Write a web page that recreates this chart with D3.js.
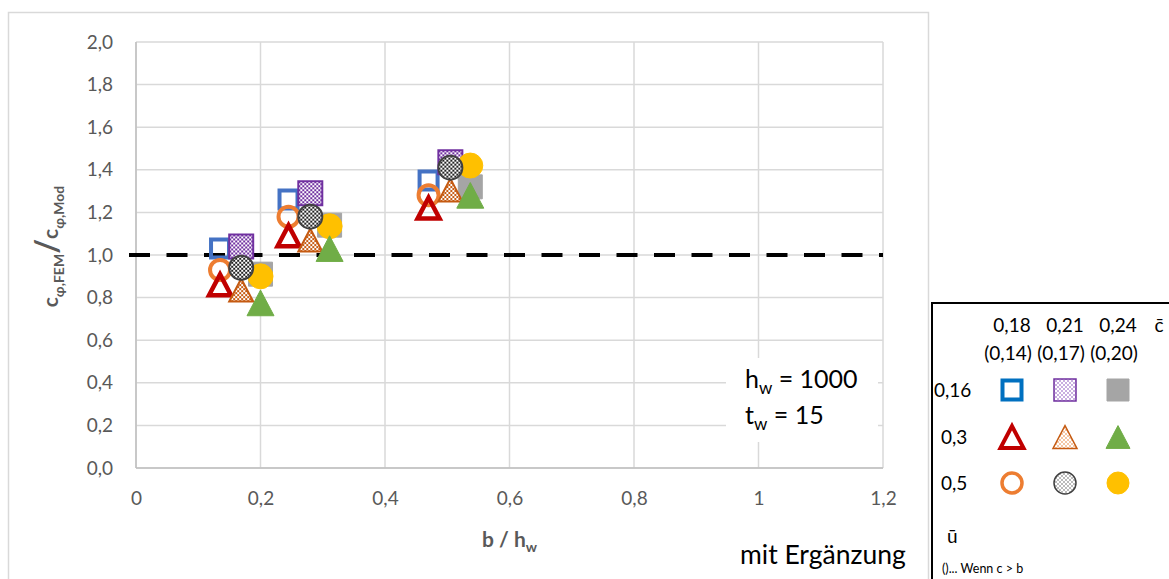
<!DOCTYPE html>
<html>
<head>
<meta charset="utf-8">
<script src="https://cdn.jsdelivr.net/npm/d3@7"></script>
<style>
  html, body { margin: 0; padding: 0; background: #fff; }
  svg { display: block; font-family: Lato, "Open Sans", sans-serif; }
</style>
</head>
<body>
<svg id="chart" width="1169" height="579"></svg>
<script>
// Tick values for both axes
const xTicks = [0, 0.2, 0.4, 0.6, 0.8, 1.0, 1.2];
const yTicks = [0, 0.2, 0.4, 0.6, 0.8, 1.0, 1.2, 1.4, 1.6, 1.8, 2.0];
const xTickLabels = ["0", "0,2", "0,4", "0,6", "0,8", "1", "1,2"];
const yTickLabels = ["0,0", "0,2", "0,4", "0,6", "0,8", "1,0", "1,2", "1,4", "1,6", "1,8", "2,0"];

// Legend header values
const cBarValues = ["0,18", "0,21", "0,24"];
const cBarAlt = ["(0,14)", "(0,17)", "(0,20)"];
const uBarValues = ["0,16", "0,3", "0,5"];

// b / h_w for each c̄ column (three web configurations each)
const bRatio_c018 = [0.135, 0.245, 0.470];
const bRatio_c021 = [0.169, 0.280, 0.505];
const bRatio_c024 = [0.200, 0.311, 0.537];

// c_φ,FEM / c_φ,Mod per series (ū, c̄)
const ratio_u016_c018 = [1.03, 1.26, 1.35];
const ratio_u016_c021 = [1.04, 1.29, 1.435];
const ratio_u016_c024 = [0.91, 1.14, 1.32];
const ratio_u03_c018 = [0.86, 1.09, 1.22];
const ratio_u03_c021 = [0.835, 1.07, 1.305];
const ratio_u03_c024 = [0.775, 1.03, 1.28];
const ratio_u05_c018 = [0.93, 1.18, 1.28];
const ratio_u05_c021 = [0.94, 1.18, 1.41];
const ratio_u05_c024 = [0.90, 1.135, 1.42];

const referenceLine = 1.0;

const svg = d3.select("#chart");
const defs = svg.append("defs");

// Fine checker fills
function checker(id, dark, light) {
  const p = defs.append("pattern").attr("id", id).attr("patternUnits", "userSpaceOnUse")
    .attr("width", 4).attr("height", 4);
  p.append("rect").attr("width", 4).attr("height", 4).attr("fill", light);
  p.append("rect").attr("width", 2).attr("height", 2).attr("fill", dark);
  p.append("rect").attr("x", 2).attr("y", 2).attr("width", 2).attr("height", 2).attr("fill", dark);
}
checker("chkPurple", "#7030a0", "#ffffff");
checker("chkOrange", "#c55a11", "#ffffff");
checker("chkGray", "#222222", "#ffffff");
checker("chkPurpleLt", "#c9aee0", "#ffffff");
checker("chkOrangeLt", "#f4c7a6", "#ffffff");
checker("chkGrayLt", "#bbbbbb", "#ffffff");

// Outer chart frame
svg.append("rect").attr("x", 8.5).attr("y", 12.5).attr("width", 920).attr("height", 580)
  .attr("fill", "#fff").attr("stroke", "#d9d9d9").attr("stroke-width", 1.5);

const plot = { left: 136, top: 42, right: 883, bottom: 468 };
const x = d3.scaleLinear().domain([0, 1.2]).range([plot.left, plot.right]);
const y = d3.scaleLinear().domain([0, 2.0]).range([plot.bottom, plot.top]);

// Gridlines
const grid = svg.append("g");
grid.selectAll("line.h").data(yTicks).join("line")
  .attr("x1", plot.left).attr("x2", plot.right)
  .attr("y1", d => y(d)).attr("y2", d => y(d))
  .attr("stroke", "#d9d9d9").attr("stroke-width", 1.5);
grid.selectAll("line.v").data(xTicks).join("line")
  .attr("y1", plot.top).attr("y2", plot.bottom)
  .attr("x1", d => x(d)).attr("x2", d => x(d))
  .attr("stroke", "#d9d9d9").attr("stroke-width", 1.5);
svg.append("line").attr("x1", plot.left).attr("x2", plot.right)
  .attr("y1", y(0)).attr("y2", y(0)).attr("stroke", "#bfbfbf").attr("stroke-width", 1.5);
svg.append("line").attr("x1", x(0)).attr("x2", x(0))
  .attr("y1", plot.top).attr("y2", plot.bottom).attr("stroke", "#bfbfbf").attr("stroke-width", 1.5);

// Axes (labels only)
const yAxis = d3.axisLeft(y).tickValues(yTicks).tickSize(0).tickPadding(23)
  .tickFormat((d, i) => yTickLabels[i]);
svg.append("g").attr("transform", `translate(${plot.left},0)`).call(yAxis)
  .call(g => g.select(".domain").remove())
  .selectAll("text").attr("font-size", 19).attr("fill", "#595959")
  .attr("font-family", "Lato, sans-serif");

const xAxis = d3.axisBottom(x).tickValues(xTicks).tickSize(0).tickPadding(24)
  .tickFormat((d, i) => xTickLabels[i]);
svg.append("g").attr("transform", `translate(0,${plot.bottom})`).call(xAxis)
  .call(g => g.select(".domain").remove())
  .selectAll("text").attr("font-size", 19).attr("fill", "#595959")
  .attr("font-family", "Lato, sans-serif");

// Axis titles
const yTitle = svg.append("text")
  .attr("transform", `translate(58,${y(1.04)}) rotate(-90)`)
  .attr("text-anchor", "middle").attr("fill", "#595959")
  .attr("font-weight", "bold").attr("font-size", 21);
yTitle.append("tspan").text("c");
yTitle.append("tspan").attr("font-size", 14).attr("dy", 6).text("φ,FEM");
yTitle.append("tspan").attr("font-size", 32).attr("dy", -6).text("/");
yTitle.append("tspan").text("c");
yTitle.append("tspan").attr("font-size", 14).attr("dy", 6).text("φ,Mod");

const xTitle = svg.append("text").attr("x", x(0.6)).attr("y", 547)
  .attr("text-anchor", "middle").attr("fill", "#595959")
  .attr("font-weight", "bold").attr("font-size", 21);
xTitle.append("tspan").text("b / h");
xTitle.append("tspan").attr("font-size", 14).attr("dy", 5).text("w");

// Reference ratio line
svg.append("line")
  .attr("x1", plot.left - 7).attr("x2", plot.right)
  .attr("y1", y(referenceLine)).attr("y2", y(referenceLine))
  .attr("stroke", "#000").attr("stroke-width", 4).attr("stroke-dasharray", "21,16.5");

// Marker shapes
function squarePath(s) { return `M${-s/2},${-s/2}h${s}v${s}h${-s}Z`; }
function trianglePath(w) { const h = w * 0.95; return `M0,${-h/2}L${w/2},${h/2}L${-w/2},${h/2}Z`; }
function circlePath(r) { return `M${-r},0A${r},${r} 0 1,0 ${r},0A${r},${r} 0 1,0 ${-r},0Z`; }

const series = [
  { xs: bRatio_c018, ys: ratio_u016_c018, d: squarePath(18), fill: "none", stroke: "#4472c4", sw: 4 },
  { xs: bRatio_c021, ys: ratio_u016_c021, d: squarePath(24), fill: "url(#chkPurple)", stroke: "#7030a0", sw: 2 },
  { xs: bRatio_c024, ys: ratio_u016_c024, d: squarePath(24), fill: "#a5a5a5", stroke: "#a5a5a5", sw: 1 },
  { xs: bRatio_c018, ys: ratio_u05_c018, d: circlePath(10), fill: "none", stroke: "#ed7d31", sw: 4 },
  { xs: bRatio_c024, ys: ratio_u05_c024, d: circlePath(12.5), fill: "#ffc000", stroke: "#ffc000", sw: 1 },
  { xs: bRatio_c018, ys: ratio_u03_c018, d: trianglePath(22), fill: "none", stroke: "#c00000", sw: 4.5 },
  { xs: bRatio_c021, ys: ratio_u03_c021, d: trianglePath(24), fill: "url(#chkOrange)", stroke: "#c55a11", sw: 2 },
  { xs: bRatio_c024, ys: ratio_u03_c024, d: trianglePath(27), fill: "#70ad47", stroke: "#70ad47", sw: 1 },
  { xs: bRatio_c021, ys: ratio_u05_c021, d: circlePath(12), fill: "url(#chkGray)", stroke: "#404040", sw: 2 }
];

const marks = svg.append("g");
series.forEach(s => {
  marks.append("g").selectAll("path")
    .data(s.xs.map((v, i) => [v, s.ys[i]]))
    .join("path")
    .attr("transform", d => `translate(${x(d[0])},${y(d[1])})`)
    .attr("d", s.d).attr("fill", s.fill).attr("stroke", s.stroke)
    .attr("stroke-width", s.sw).attr("stroke-linejoin", "miter");
});

// Annotation box
svg.append("rect").attr("x", 726).attr("y", 358).attr("width", 152).attr("height", 84).attr("fill", "#fff");
const hw = svg.append("text").attr("x", 745).attr("y", 388).attr("font-size", 25).attr("fill", "#000")
  .attr("font-family", "Lato, sans-serif");
hw.append("tspan").text("h");
hw.append("tspan").attr("font-size", 17).attr("dy", 6).text("w");
hw.append("tspan").attr("dy", -6).text(" = 1000");
const tw = svg.append("text").attr("x", 745).attr("y", 424).attr("font-size", 25).attr("fill", "#000")
  .attr("font-family", "Lato, sans-serif");
tw.append("tspan").text("t");
tw.append("tspan").attr("font-size", 17).attr("dy", 6).text("w");
tw.append("tspan").attr("dy", -6).text(" = 15");

svg.append("text").attr("x", 740).attr("y", 564).attr("font-size", 26.5).attr("fill", "#000")
  .attr("font-family", "Lato, sans-serif").text("mit Ergänzung");

// Legend panel
const lg = svg.append("g").attr("font-family", "Lato, sans-serif").attr("font-size", 19).attr("fill", "#000");
lg.append("rect").attr("x", 932).attr("y", 303).attr("width", 250).attr("height", 290)
  .attr("fill", "#fff").attr("stroke", "#000").attr("stroke-width", 2);

const colX = [1012, 1065, 1118];
const rowY = [390, 437, 483];
lg.selectAll("text.c").data(cBarValues).join("text").attr("class", "c")
  .attr("x", (d, i) => colX[i]).attr("y", 332).attr("text-anchor", "middle").text(d => d);
lg.append("text").attr("x", 1159).attr("y", 332).attr("text-anchor", "middle").text("c̄");
lg.selectAll("text.ca").data(cBarAlt).join("text").attr("class", "ca")
  .attr("x", (d, i) => colX[i] - 4).attr("y", 360).attr("text-anchor", "middle").text(d => d);
lg.selectAll("text.u").data(uBarValues).join("text").attr("class", "u")
  .attr("x", (d, i) => i === 0 ? 934 : 941).attr("y", (d, i) => rowY[i] + 7).text(d => d);
lg.append("text").attr("x", 947).attr("y", 543).text("ū");
lg.append("text").attr("x", 942).attr("y", 573).attr("font-size", 12.5).text("()... Wenn c > b");

const legendMarks = [
  [squarePath(19), "none", "#0070c0", 4],
  [squarePath(22), "url(#chkPurpleLt)", "#7030a0", 1.5],
  [squarePath(22), "#a5a5a5", "#a5a5a5", 1],
  [trianglePath(23), "none", "#c00000", 4],
  [trianglePath(24), "url(#chkOrangeLt)", "#c55a11", 1.5],
  [trianglePath(24), "#70ad47", "#70ad47", 1],
  [circlePath(10), "none", "#ed7d31", 3.5],
  [circlePath(11), "url(#chkGrayLt)", "#404040", 1.5],
  [circlePath(11), "#ffc000", "#ffc000", 1]
];
legendMarks.forEach((m, i) => {
  const cx = colX[i % 3], cy = rowY[Math.floor(i / 3)];
  lg.append("path").attr("transform", `translate(${cx},${cy})`)
    .attr("d", m[0]).attr("fill", m[1]).attr("stroke", m[2]).attr("stroke-width", m[3]);
});
</script>
</body>
</html>
